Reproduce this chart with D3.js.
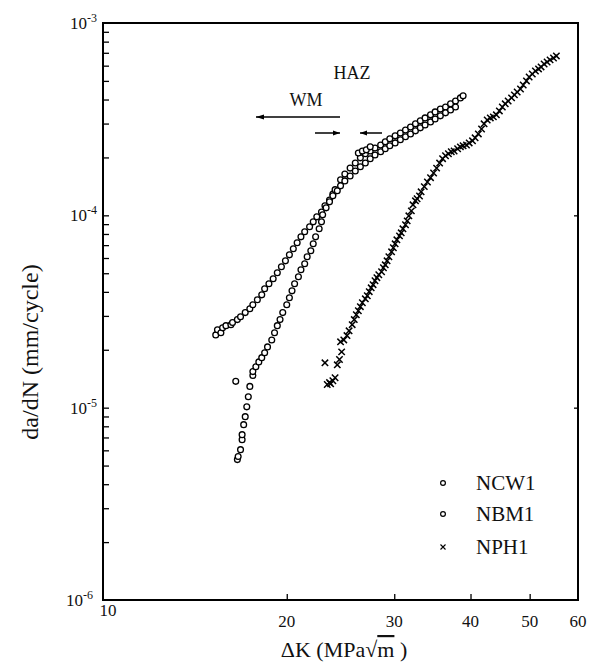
<!DOCTYPE html>
<html><head><meta charset="utf-8">
<script src="https://cdn.jsdelivr.net/npm/d3@7"></script>
<style>body{margin:0;background:#fff}svg{display:block}text{font-family:"Liberation Serif","DejaVu Serif",serif;fill:#111}</style>
</head><body>
<svg id="c" width="591" height="666"></svg>
<script>
// ---- data (ΔK in MPa·√m, da/dN in mm/cycle) ----
const xTickValues = [10, 20, 30, 40, 50, 60];
const yTickExponents = [-3, -4, -5, -6];
const seriesNames = ["NCW1", "NBM1", "NPH1"];

const NCW1 = [
 [15.3,2.39e-5],[15.4,2.54e-5],[15.6,2.45e-5],[15.7,2.60e-5],[15.9,2.67e-5],[16.2,2.70e-5],[16.3,2.77e-5],
 [16.6,2.87e-5],[16.8,2.97e-5],[17.1,3.12e-5],[17.4,3.27e-5],[17.6,3.43e-5],[17.9,3.64e-5],[18.2,3.86e-5],
 [18.4,4.15e-5],[18.7,4.41e-5],[19.0,4.68e-5],[19.3,5.03e-5],[19.6,5.40e-5],[19.9,5.80e-5],[20.2,6.23e-5],
 [20.5,6.70e-5],[20.8,7.20e-5],[21.1,7.73e-5],[21.4,8.21e-5],[21.8,8.72e-5],[22.1,9.25e-5],[22.4,9.82e-5],
 [22.8,1.04e-4],[23.1,1.12e-4],[23.5,1.20e-4],[23.8,1.29e-4],[24.0,1.36e-4],[24.5,1.53e-4],[24.9,1.64e-4],
 [25.4,1.76e-4],[25.9,1.87e-4],[26.4,1.99e-4],[26.9,2.09e-4],[27.4,2.16e-4],[27.9,2.24e-4],[28.5,2.32e-4],
 [29.0,2.41e-4],[29.5,2.50e-4],[30.1,2.59e-4],[30.7,2.68e-4],[31.3,2.78e-4],[31.9,2.88e-4],[32.5,2.99e-4],
 [33.1,3.10e-4],[33.7,3.21e-4],[34.4,3.33e-4],[35.0,3.45e-4],[35.7,3.57e-4],[36.4,3.66e-4],[37.1,3.80e-4],
 [37.8,3.93e-4],[38.5,4.08e-4],[38.9,4.18e-4]
];
const NBM1 = [
 [16.6,5.37e-6],[16.65,5.57e-6],[16.8,6.05e-6],[16.9,6.82e-6],[16.9,7.24e-6],[17.0,8.16e-6],[17.1,8.98e-6],
 [17.2,1.01e-5],[17.3,1.14e-5],[17.4,1.29e-5],[16.5,1.37e-5],[17.6,1.47e-5],[17.6,1.54e-5],[17.8,1.63e-5],
 [18.0,1.73e-5],[18.2,1.82e-5],[18.4,1.93e-5],[18.6,2.07e-5],[18.9,2.25e-5],[19.1,2.45e-5],[19.3,2.67e-5],
 [19.5,2.87e-5],[19.7,3.12e-5],[20.0,3.43e-5],[20.2,3.73e-5],[20.4,4.05e-5],[20.6,4.41e-5],[20.9,4.79e-5],
 [21.1,5.21e-5],[21.4,5.60e-5],[21.6,6.09e-5],[21.9,6.54e-5],[22.1,7.11e-5],[22.3,7.73e-5],[22.6,8.51e-5],
 [22.8,9.25e-5],[22.9,1.006e-4],[23.2,1.094e-4],[23.5,1.175e-4],[23.8,1.263e-4],[24.2,1.341e-4],[24.5,1.423e-4],
 [24.9,1.51e-4],[25.4,1.60e-4],[25.9,1.70e-4],[26.2,2.11e-4],[26.4,1.79e-4],[26.6,2.16e-4],[26.9,1.87e-4],
 [27.0,2.19e-4],[27.4,1.97e-4],[27.4,2.27e-4],[27.9,2.06e-4],[28.5,2.14e-4],[29.0,2.22e-4],[29.5,2.30e-4],
 [30.1,2.38e-4],[30.7,2.47e-4],[31.3,2.56e-4],[31.9,2.65e-4],[32.5,2.75e-4],[33.1,2.85e-4],[33.7,2.95e-4],
 [34.4,3.06e-4],[35.0,3.17e-4],[35.7,3.29e-4],[36.4,3.41e-4],[37.1,3.53e-4],[37.8,3.66e-4]
];
const NPH1 = [
 [23.3,1.32e-5],[23.5,1.35e-5],[23.6,1.33e-5],[23.8,1.38e-5],[24.0,1.43e-5],[23.1,1.71e-5],[24.2,1.67e-5],
 [24.4,1.78e-5],[24.6,1.95e-5],[24.5,2.20e-5],[24.8,2.25e-5],[25.1,2.37e-5],[25.3,2.51e-5],[25.6,2.70e-5],
 [25.8,2.87e-5],[26.0,3.04e-5],[26.2,3.19e-5],[26.4,3.35e-5],[26.6,3.51e-5],[26.9,3.68e-5],[27.1,3.82e-5],
 [27.3,4.01e-5],[27.5,4.20e-5],[27.7,4.36e-5],[27.9,4.57e-5],[28.1,4.74e-5],[28.3,4.91e-5],[28.6,5.09e-5],
 [28.8,5.34e-5],[29.0,5.53e-5],[29.2,5.80e-5],[29.4,6.09e-5],[29.7,6.46e-5],[29.9,6.78e-5],[30.1,7.11e-5],
 [30.3,7.46e-5],[30.6,7.82e-5],[30.8,8.11e-5],[31.0,8.51e-5],[31.3,8.93e-5],[31.5,9.36e-5],[31.7,9.94e-5],
 [32.0,1.055e-4],[32.2,1.134e-4],[32.5,1.19e-4],[32.7,1.22e-4],[33.0,1.26e-4],[33.2,1.325e-4],[33.6,1.41e-4],
 [34.0,1.49e-4],[34.4,1.57e-4],[34.8,1.66e-4],[35.2,1.76e-4],[35.6,1.87e-4],[36.0,1.97e-4],[36.4,2.04e-4],
 [36.8,2.09e-4],[37.2,2.14e-4],[37.6,2.16e-4],[38.1,2.22e-4],[38.5,2.27e-4],[38.9,2.30e-4],[39.4,2.32e-4],
 [39.8,2.38e-4],[40.3,2.44e-4],[40.7,2.53e-4],[41.2,2.65e-4],[41.7,2.81e-4],[42.1,2.99e-4],[42.6,3.13e-4],
 [43.1,3.21e-4],[43.6,3.25e-4],[44.1,3.33e-4],[44.6,3.49e-4],[45.1,3.66e-4],[45.6,3.80e-4],[46.1,3.93e-4],
 [46.7,4.08e-4],[47.2,4.23e-4],[47.7,4.38e-4],[48.3,4.54e-4],[48.8,4.76e-4],[49.4,5.00e-4],[49.9,5.24e-4],
 [50.5,5.43e-4],[51.1,5.63e-4],[51.7,5.77e-4],[52.2,5.91e-4],[52.8,6.12e-4],[53.4,6.27e-4],[54.0,6.43e-4],
 [54.7,6.58e-4],[55.3,6.74e-4]
];

// ---- chart ----
const svg = d3.select("#c");
const L = 103, R = 578, T = 23, B = 600;
const x = d3.scaleLog().domain([10, 60]).range([L, R]);
const y = d3.scaleLog().domain([1e-6, 1e-3]).range([B, T]);

// minor ticks
const minorY = [];
for (let e = -6; e < -3; e++) for (let m = 2; m <= 9; m++) minorY.push(m * Math.pow(10, e));
svg.append("g").attr("transform", `translate(${L},0)`)
  .call(d3.axisRight(y).tickValues(minorY.concat([1e-5,1e-4])).tickSize(6).tickFormat(""))
  .call(g => g.select(".domain").remove())
  .selectAll("line").attr("stroke", "#000").attr("stroke-width", 1.3);
svg.append("g").attr("transform", `translate(${R},0)`)
  .call(d3.axisLeft(y).tickValues([1e-5,1e-4]).tickSize(4).tickFormat(""))
  .call(g => g.select(".domain").remove())
  .selectAll("line").attr("stroke", "#000").attr("stroke-width", 1.3);
svg.append("g").attr("transform", `translate(0,${B})`)
  .call(d3.axisTop(x).tickValues(xTickValues.slice(1, -1)).tickSize(6).tickFormat(""))
  .call(g => g.select(".domain").remove())
  .selectAll("line").attr("stroke", "#000").attr("stroke-width", 1.3);

// frame
svg.append("rect").attr("x", L).attr("y", T).attr("width", R - L).attr("height", B - T)
  .attr("fill", "none").attr("stroke", "#000").attr("stroke-width", 2);

// y tick labels
yTickExponents.forEach(e => {
  const t = svg.append("text")
    .attr("x", e === -6 ? 93 : 97).attr("y", y(Math.pow(10, e)) + 6)
    .attr("text-anchor", "end").attr("font-size", 17);
  t.append("tspan").text("10");
  t.append("tspan").attr("font-size", 12).attr("dy", -7).text("-" + (-e));
});
// x tick labels
svg.selectAll(".xl").data(xTickValues).enter().append("text")
  .attr("x", d => x(d) + (d === 10 ? 5 : 0)).attr("y", d => d === 10 ? 616 : 627)
  .attr("text-anchor", "middle").attr("font-size", 17).text(d => d);

// axis titles
svg.append("text").attr("transform", "translate(38,352) rotate(-90)")
  .attr("text-anchor", "middle").attr("font-size", 24).text("da/dN (mm/cycle)");
const xt = svg.append("text").attr("x", 344).attr("y", 657).attr("text-anchor", "middle").attr("font-size", 22);
xt.append("tspan").text("ΔK (MPa");
xt.append("tspan").text("√");
xt.append("tspan").attr("text-decoration", "overline").text("m");
xt.append("tspan").text(" )");

// data
const circ = (data) => svg.append("g").selectAll("circle").data(data).enter().append("circle")
  .attr("cx", d => x(d[0])).attr("cy", d => y(d[1])).attr("r", 2.9)
  .attr("fill", "#fff").attr("stroke", "#000").attr("stroke-width", 1.3);
circ(NCW1);
circ(NBM1);
svg.append("g").selectAll("path").data(NPH1).enter().append("path")
  .attr("transform", d => `translate(${x(d[0])},${y(d[1])})`)
  .attr("d", "M-3.2,-3.2L3.2,3.2M-3.2,3.2L3.2,-3.2").attr("stroke", "#000").attr("stroke-width", 1.5);

// annotations
svg.append("text").attr("x", 352).attr("y", 79).attr("text-anchor", "middle").attr("font-size", 18).text("HAZ");
svg.append("text").attr("x", 306).attr("y", 106).attr("text-anchor", "middle").attr("font-size", 18).text("WM");
const arrow = (x1, x2, yy, len) => {
  svg.append("line").attr("x1", x1).attr("x2", x2).attr("y1", yy).attr("y2", yy).attr("stroke", "#000").attr("stroke-width", 1.5);
  const dir = Math.sign(x2 - x1);
  svg.append("path").attr("d", `M${x2},${yy}L${x2 - dir * len},${yy - 2.5}L${x2 - dir * len},${yy + 2.5}Z`).attr("fill", "#000");
};
arrow(340, 256, 117, 8);
arrow(315, 340, 133, 7);
arrow(382, 360, 133, 7);

// legend
const lg = svg.append("g");
seriesNames.forEach((n, i) => {
  const yy = [483, 514, 547][i];
  if (i < 2) lg.append("circle").attr("cx", 443).attr("cy", yy).attr("r", 2.4).attr("fill", "#fff").attr("stroke", "#000").attr("stroke-width", 1.2);
  else lg.append("path").attr("transform", `translate(443,${yy})`).attr("d", "M-2.5,-2.5L2.5,2.5M-2.5,2.5L2.5,-2.5").attr("stroke", "#000").attr("stroke-width", 1.1);
  lg.append("text").attr("x", 476).attr("y", yy + 7).attr("font-size", 21).text(n);
});
</script>
</body></html>
